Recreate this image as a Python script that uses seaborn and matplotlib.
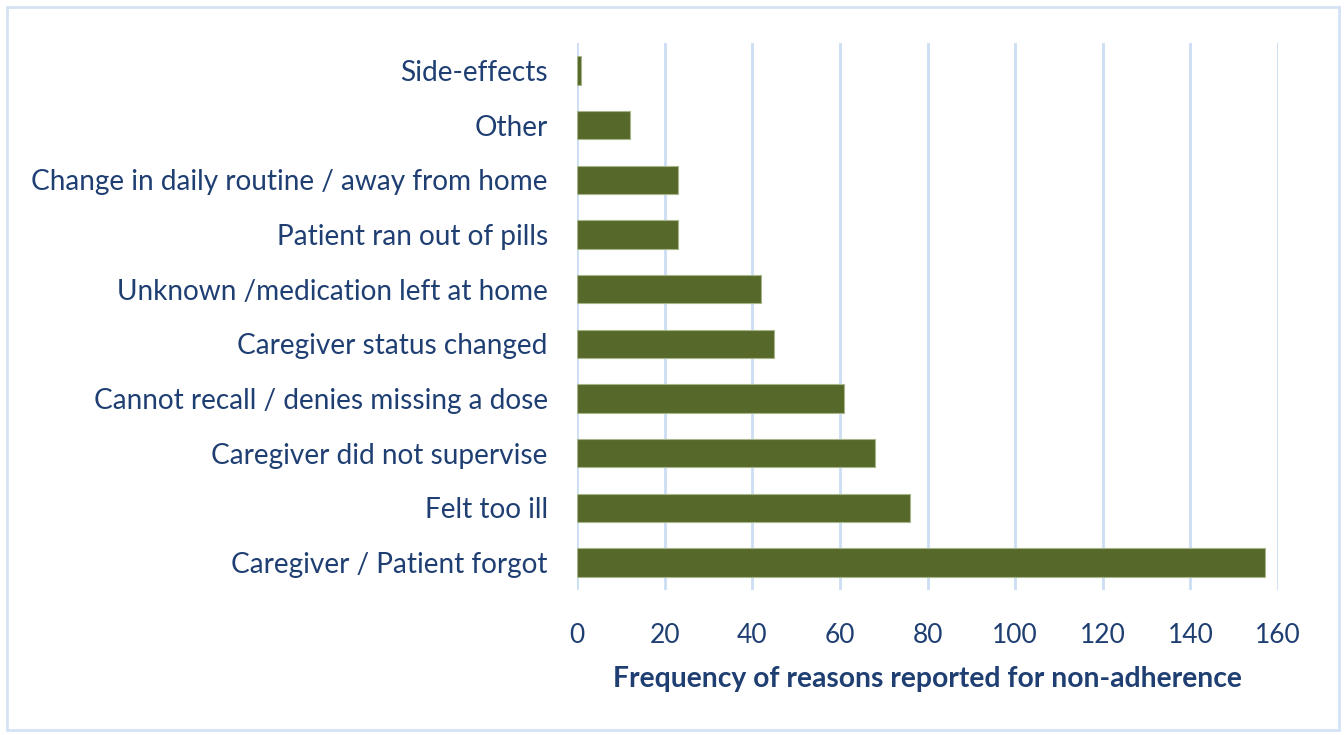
import matplotlib
matplotlib.use("Agg")
import matplotlib.pyplot as plt
import seaborn as sns
import pandas as pd
from matplotlib.patches import Rectangle

reasons = [
    "Side-effects",
    "Other",
    "Change in daily routine / away from home",
    "Patient ran out of pills",
    "Unknown /medication left at home",
    "Caregiver status changed",
    "Cannot recall / denies missing a dose",
    "Caregiver did not supervise",
    "Felt too ill",
    "Caregiver / Patient forgot",
]
frequency = [1, 12, 23, 23, 42, 45, 61, 68, 76, 157]
x_ticks = [0, 20, 40, 60, 80, 100, 120, 140, 160]

df = pd.DataFrame({"reason": reasons, "frequency": frequency})

sns.set_theme(style="white")
plt.rcParams["font.family"] = ["Lato", "DejaVu Sans"]

text_color = "#1F3F73"
grid_color = "#CCDEF4"

fig = plt.figure(figsize=(13.44, 7.35), dpi=100)
ax = fig.add_axes([577 / 1344, 1 - 590 / 735, (1278 - 577) / 1344, (590 - 43) / 735])

sns.barplot(data=df, x="frequency", y="reason", orient="h", color="#56692A",
            width=0.52, saturation=1, ax=ax, edgecolor="#A7B68A", linewidth=0.8,
            zorder=3)

ax.set_xlim(0, 160)
ax.set_xticks(x_ticks)
ax.set_xticklabels([str(t) for t in x_ticks])
ax.grid(axis="x", color=grid_color, linewidth=2, zorder=0)
ax.grid(axis="y", visible=False)
ax.set_axisbelow(True)
for s in ax.spines.values():
    s.set_visible(False)
ax.tick_params(axis="both", length=0, labelcolor=text_color)
ax.tick_params(axis="y", labelsize=20.2, pad=21)
ax.tick_params(axis="x", labelsize=19, pad=24)
ax.set_ylabel("")
ax.set_xlabel("Frequency of reasons reported for non-adherence", fontsize=20.3,
              fontweight="bold", color=text_color, labelpad=13)

fig.patches.append(Rectangle((7 / 1344, 5 / 735), 1332 / 1344, 723 / 735,
                             transform=fig.transFigure, fill=False,
                             edgecolor="#D3E2F4", linewidth=2))

fig.savefig("out.png", dpi=100)
